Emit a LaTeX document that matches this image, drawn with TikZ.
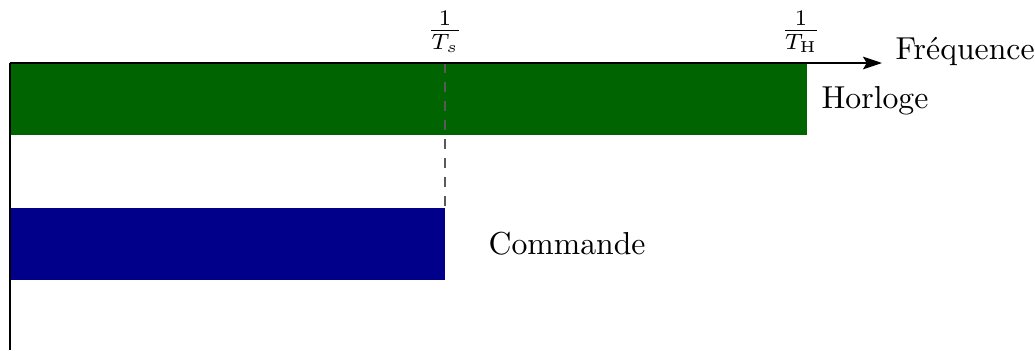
\documentclass[tikz,border=0pt]{standalone}
\usetikzlibrary{arrows.meta}
\definecolor{barhorloge}{RGB}{0,100,0}
\definecolor{barcommande}{RGB}{0,0,139}
\tikzset{
  axisline/.style={line width=0.6pt, black},
  lbl/.style={inner sep=0pt, font=\normalsize},
  marker/.style={dashed, gray!70!black, line width=0.6pt},
}
\begin{document}
\begin{tikzpicture}[x=0.315pt, y=-0.315pt]
\useasboundingbox (0,0) rectangle (1035,350);
% bars
\fill[barhorloge] (10,63) rectangle (807,135);
\fill[barcommande] (10,208) rectangle (445,280);
\coordinate (O) at (10,63);
\coordinate (Xend) at (882,63);
\coordinate (Yend) at (10,350);
\coordinate (Ts) at (445,63);
\coordinate (TsB) at (445,208);
\coordinate (TH) at (801,63);
% dashed marker
\draw[marker] (Ts) -- (TsB);
% axes
\draw[axisline, -{Stealth[length=6pt,width=4pt,inset=1.2pt]}] (O) -- (Xend);
\draw[axisline] (O) -- (Yend);
% labels
\node[anchor=south, inner sep=3.2pt] (lTs) at (Ts) {$\frac{1}{T_s}$};
\node[anchor=south, inner sep=3.2pt] (lTH) at (TH) {$\frac{1}{T_\mathrm{H}}$};
\node[lbl, anchor=base west] (freq) at (895,59) {Fréquence};
\node[lbl, anchor=base west] (horl) at (821,108) {Horloge};
\node[lbl, anchor=base west] (comm) at (488,254) {Commande};
\end{tikzpicture}
\end{document}
